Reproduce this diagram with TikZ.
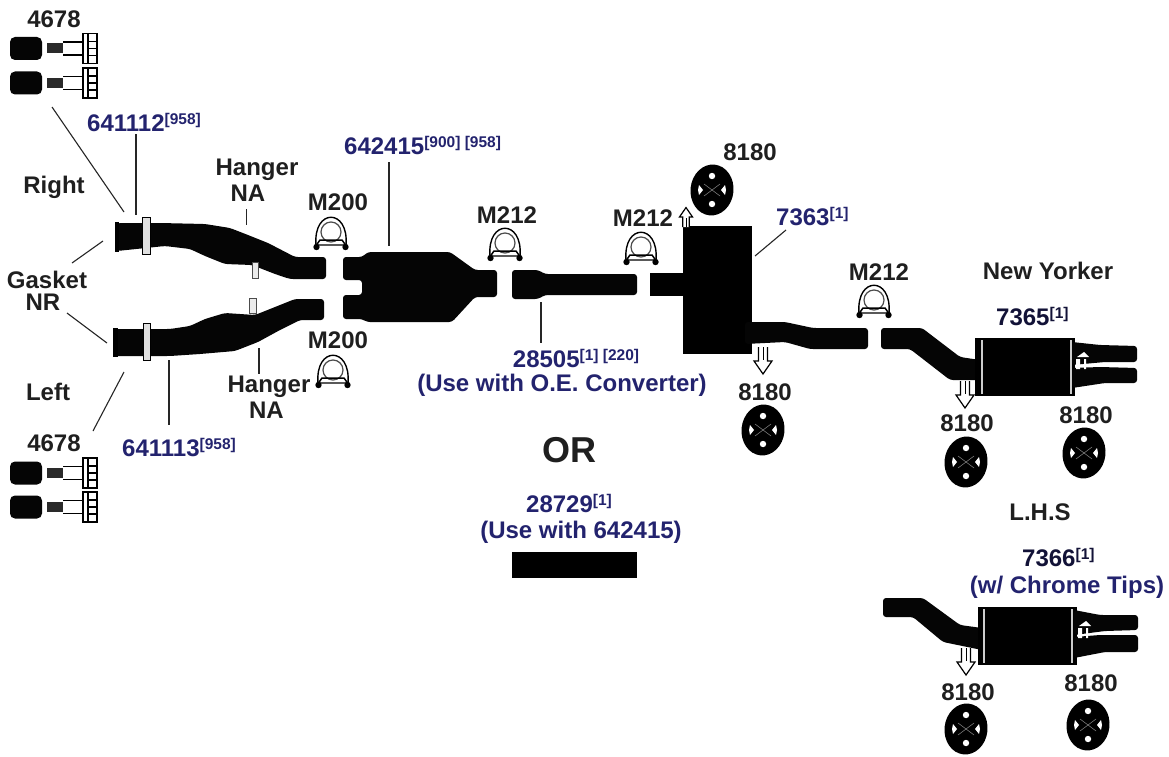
\documentclass[tikz,border=0pt]{standalone}
\usepackage{fontspec}
\setmainfont{Liberation Sans}
\usetikzlibrary{calc}
\definecolor{partblue}{HTML}{23236E}
\definecolor{pipeblack}{HTML}{050505}
\definecolor{hwgray}{HTML}{2A2A2A}
\newcommand{\supnum}[1]{\raisebox{7pt}{\fontsize{15.5}{15.5}\selectfont #1}}

\begin{document}
\begin{tikzpicture}[
    x=1pt, y=-1pt,
    every node/.style={inner sep=0pt, font=\fontsize{24}{26}\selectfont\bfseries},
    lbl/.style={text=black!88, align=center},
    partno/.style={text=partblue, align=center},
    leader/.style={line width=1.1pt, black!85},
    pipe/.style={fill=pipeblack, rounded corners=3pt},
    band/.style={fill=black!12, draw=black, line width=1pt},
    tab/.style={fill=black!8, draw=black!70, line width=.7pt},
    stripe/.style={line width=1.2pt, black!20},
    pics/uclamp/.style={code={
        \draw[line width=1.4pt, fill=white] (-15,13) .. controls (-18,-24) and (18,-24) .. (15,13) -- cycle;
        \draw[line width=1.2pt, black!70] (0,0) circle (10pt);
        \draw[line width=1.5pt] (-16,15) -- (-11,8) -- (11,8) -- (16,15);
        \fill (-14.5,15) circle (3.2pt) (14.5,15) circle (3.2pt);
    }},
    pics/isolator/.style={code={
        \fill[rotate=-6] (0,0) ellipse (21.5pt and 25.5pt);
        \fill[white] (0,-14) circle (3.2pt) (0,14) circle (3.2pt);
        \fill[white] (-13,-5) -- (-9,0) -- (-13,5) -- (-14,0) -- cycle;
        \fill[white] (13,-5) -- (9,0) -- (13,5) -- (14,0) -- cycle;
        \draw[black!45, line width=.5pt] (-8,-6) -- (8,6) (-8,6) -- (8,-6);
    }},
    pics/tailbolt/.style={code={
        \fill[pipeblack, rounded corners=5pt] (0,-11.5) rectangle (32,11.5);
        \fill[hwgray] (37,-5) rectangle (53,5);
        \draw[line width=1.2pt, fill=white] (53,-6.5) -- (73,-6.5) -- (73,6.5) -- (53,6.5);
        \draw[line width=1.3pt, fill=white] (73,-15) rectangle (87,15);
        \draw[line width=2pt] (78,-15) -- (78,15);
        \draw[line width=1.6pt] (78,-7) -- (87,-7) (78,0) -- (87,0) (78,7) -- (87,7);
    }},
    pics/droparrow/.style={code={
        \draw[line width=1.2pt, fill=white] (-4.5,0) -- (-4.5,14) -- (-9,14) -- (0,27) -- (9,14) -- (4.5,14) -- (4.5,0);
        \draw[line width=1pt] (0,0) -- (0,13);
    }},
    pics/tipmark/.style={code={
        \fill[white] (-7,-1) rectangle (-3,9) (1,-1) rectangle (3,9) (-6,-3) -- (1,-8) -- (6,-3) -- cycle;
    }},
]
\useasboundingbox (0,0) rectangle (1169,757);
\fill[white] (0,0) rectangle (1169,757);

% bolts
\foreach \bx/\by in {10/48.5, 10/83, 10/473, 10/507}
  \pic at (\bx,\by) {tailbolt};

% front pipes
\fill[pipe] (117,223) -- (160,223) -- (205,224) -- (230,228) -- (248,235) -- (268,243) -- (295,257) -- (326,257)
  -- (326,279) -- (290,279) -- (275,274) -- (252,265) -- (225,264) -- (205,256) -- (190,249) -- (165,246) -- (117,251) -- cycle;
\fill[pipe] (115,329) -- (170,329) -- (190,326) -- (205,319) -- (225,313) -- (255,315) -- (275,307) -- (295,299) -- (324,299)
  -- (324,320) -- (300,320) -- (280,330) -- (258,342) -- (235,351) -- (200,354) -- (170,356) -- (115,356) -- cycle;
\fill (115,222) rectangle (119,252);
\fill (113,328) rectangle (118,357);
\draw[band] (142,217) rectangle (150,254);
\draw[band] (143,323) rectangle (150,360);
\draw[tab] (252,262) rectangle (258,278);
\draw[tab] (249,298) rectangle (256,313);

% converter
\fill[pipe] (343,257) -- (362,257) -- (368,252) -- (450,252) -- (475,270) -- (497,270) -- (497,297) -- (475,297)
  -- (452,322) -- (367,322) -- (362,319) -- (343,319) -- (343,295) -- (362,295) -- (362,280) -- (343,280) -- cycle;

% intermediate pipe
\fill[pipe] (512,270) -- (538,270) -- (545,274) -- (637,274) -- (637,295) -- (545,295) -- (538,299) -- (512,299) -- cycle;
\fill (650,273) rectangle (690,296);

% rear muffler and tail pipe
\fill (683,226) rectangle (752,354);
\fill[pipe] (745,322) -- (785,322) -- (813,328) -- (868,328) -- (868,349) -- (810,349) -- (785,342) -- (745,344) -- cycle;
\fill[pipe] (881,328) -- (922,328) -- (960,357) -- (980,360) -- (980,380) -- (950,380) -- (910,349) -- (881,349) -- cycle;

% New Yorker muffler
\fill (975,338) rectangle (1075,396);
\draw[stripe] (982,340) -- (982,394) (1071,340) -- (1071,394);
\fill[pipe] (1072,342) -- (1100,345) -- (1137,346) -- (1137,362) -- (1105,362) -- (1072,365) -- cycle;
\fill[pipe] (1072,368) -- (1100,367) -- (1137,368) -- (1137,383) -- (1105,383) -- (1072,388) -- cycle;
\pic at (1083,360) {tipmark};

% L.H.S muffler
\fill[pipe] (883,598) -- (923,598) -- (960,625) -- (982,628) -- (982,650) -- (943,642) -- (913,617) -- (883,617) -- cycle;
\fill (978,607) rectangle (1077,665);
\draw[stripe] (984,609) -- (984,663) (1072,609) -- (1072,663);
\fill[pipe] (1074,610) -- (1100,615) -- (1138,615) -- (1138,630) -- (1105,631) -- (1074,635) -- cycle;
\fill[pipe] (1074,637) -- (1100,635) -- (1138,635) -- (1138,652) -- (1105,652) -- (1074,658) -- cycle;
\pic at (1085,629) {tipmark};

% replacement pipe
\fill (512,552) rectangle (637,578);

% clamps
\foreach \cx/\cy in {331/232, 333/370, 505/243, 641/247, 874/300}
  \pic at (\cx,\cy) {uclamp};

% hanger arrows
\pic at (763,347) {droparrow};
\pic at (965,381) {droparrow};
\pic at (966,648) {droparrow};
\pic[rotate=180, scale=.72] at (686,227) {droparrow};

% isolators
\foreach \ix/\iy in {712/190, 763/430, 966/462, 1084/453, 966/729, 1088/725}
  \pic at (\ix,\iy) {isolator};

% labels
\node[lbl] (boltR) at (54,19) {4678};
\node[lbl] (boltL) at (54,443) {4678};
\node[lbl] (right) at (54,187) {Right};
\node[lbl] (left) at (48,392) {Left};
\node[lbl, font=\fontsize{24}{22}\selectfont\bfseries] (gasket) at (47,291) {Gasket\\NR\hspace*{8pt}};
\node[lbl] (hangerU) at (257,180) {Hanger\\NA\hspace*{18pt}};
\node[lbl] (hangerL) at (269,397) {Hanger\\NA\hspace*{5pt}};
\node[lbl] (clampA) at (338,202) {M200};
\node[lbl] (clampB) at (338,340) {M200};
\node[lbl] (clampC) at (507,215) {M212};
\node[lbl] (clampD) at (643,218) {M212};
\node[lbl] (clampE) at (879,272) {M212};
\node[lbl] (isoA) at (750,152) {8180};
\node[lbl] (isoB) at (765,392) {8180};
\node[lbl] (isoC) at (967,423) {8180};
\node[lbl] (isoD) at (1086,415) {8180};
\node[lbl] (isoE) at (968,692) {8180};
\node[lbl] (isoF) at (1091,683) {8180};
\node[lbl] (newyorker) at (1048,271) {New Yorker};
\node[lbl] (lhs) at (1040,512) {L.H.S};
\node[lbl, font=\fontsize{36}{36}\selectfont\bfseries] (orword) at (569,450) {OR};

\node[partno, anchor=west] (pipeR) at (87,123) {641112\supnum{[958]}};
\node[partno, anchor=west] (pipeL) at (122,448) {641113\supnum{[958]}};
\node[partno, anchor=west] (conv) at (344,146) {642415\supnum{[900] [958]}};
\node[partno, anchor=west] (mufflerA) at (776,217) {7363\supnum{[1]}};
\node[partno, anchor=west, text=partblue!50!black] (mufflerB) at (996,317) {7365\supnum{[1]}};
\node[partno, anchor=west, text=partblue!50!black] (mufflerC) at (1022,558) {7366\supnum{[1]}};
\node[partno] (chrome) at (1067,587) {(w/ Chrome Tips)};
\node[partno] (pipeM) at (576,358) {28505\supnum{[1] [220]}};
\node[partno] (useOE) at (562,385) {(Use with O.E. Converter)};
\node[partno] (pipeN) at (569,503) {28729\supnum{[1]}};
\node[partno] (useConv) at (581,532) {(Use with 642415)};

% leaders
\foreach \ld/\ax/\ay/\bx/\by in {
    la/52/107/124/212, lb/136/134/136/215, lc/246.5/209/246.5/225, ld/389/162/389/246,
    le/72/263/103/241, lf/67/313/107/343, lg/93/431/124/372, lh/169/360/169/425,
    li/259/348/259/374, lj/541/302/541/343, lk/755/256/786/230}{
  \coordinate (\ld a) at (\ax,\ay);
  \coordinate (\ld b) at (\bx,\by);
  \draw[leader] (\ld a) -- (\ld b);
}

\end{tikzpicture}
\end{document}
